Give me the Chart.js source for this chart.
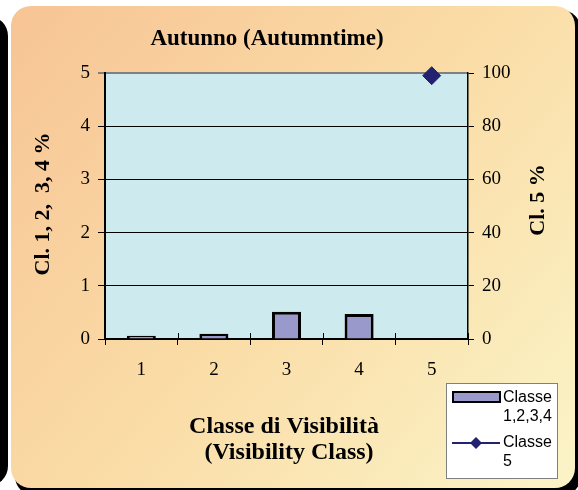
<!DOCTYPE html>
<html>
<head>
<meta charset="utf-8">
<script src="https://cdn.jsdelivr.net/npm/chart.js@4.4.1/dist/chart.umd.min.js"></script>
<style>
  html, body { margin: 0; padding: 0; background: #fff; overflow: hidden; }
  canvas { display: block; }
</style>
</head>
<body>
<canvas id="graficoAutunno" width="578" height="490"></canvas>
<script>
// dati
const categorie = ['1', '2', '3', '4', '5'];
const classi1234 = [0.06, 0.1, 0.51, 0.47, 0];
const classe5 = [null, null, null, null, 99];
const titolo = 'Autunno (Autumntime)';
const titoloX = ['Classe di Visibilità', '(Visibility Class)'];
const titoloY = 'Cl. 1, 2,  3, 4 %';
const titoloY1 = 'Cl. 5 %';
const legenda = [['Classe', '1,2,3,4'], ['Classe', '5']];

const serif = '"Liberation Serif", serif';
const sans = '"Liberation Sans", Arial, sans-serif';

function rr(ctx, x, y, w, h, r) {
    ctx.beginPath();
    ctx.moveTo(x + r, y);
    ctx.arcTo(x + w, y, x + w, y + h, r);
    ctx.arcTo(x + w, y + h, x, y + h, r);
    ctx.arcTo(x, y + h, x, y, r);
    ctx.arcTo(x, y, x + w, y, r);
    ctx.closePath();
}

const sfondo = {
    id: 'sfondo',
    beforeDraw(chart) {
        const ctx = chart.ctx;
        const a = chart.chartArea;
        ctx.save();
        ctx.fillStyle = '#fff';
        ctx.fillRect(0, 0, chart.width, chart.height);
        // ombra del pannello accanto
        ctx.fillStyle = '#000';
        rr(ctx, -60, 16, 68, 470, 20);
        ctx.fill();
        // ombra del pannello
        rr(ctx, 15, 10, 566, 486, 20);
        ctx.fill();
        const g = ctx.createLinearGradient(11, 6, 575, 488);
        g.addColorStop(0, '#f7c495');
        g.addColorStop(0.5, '#fadca6');
        g.addColorStop(1, '#fbf4c8');
        ctx.fillStyle = g;
        rr(ctx, 11, 6, 564, 482, 20);
        ctx.fill();
        // area del grafico
        ctx.fillStyle = '#cdebef';
        ctx.fillRect(a.left, a.top, a.right - a.left, a.bottom - a.top);
        ctx.restore();
    },
    afterDraw(chart) {
        const ctx = chart.ctx;
        const a = chart.chartArea;
        ctx.save();
        // tacche interne asse x
        ctx.strokeStyle = '#000';
        ctx.lineWidth = 1;
        const n = categorie.length;
        for (let i = 0; i <= n; i++) {
            const px = Math.round(a.left + i * (a.right - a.left) / n) + 0.5;
            ctx.beginPath();
            ctx.moveTo(px, a.bottom - 6);
            ctx.lineTo(px, a.bottom);
            ctx.stroke();
        }
        // titoli
        ctx.fillStyle = '#000';
        ctx.textAlign = 'center';
        ctx.textBaseline = 'alphabetic';
        ctx.font = 'bold 23px ' + serif;
        ctx.fillText(titolo, 267, 45);
        ctx.font = 'bold 24px ' + serif;
        ctx.fillText(titoloX[0], 284, 433);
        ctx.fillText(titoloX[1], 289, 459);
        ctx.font = 'bold 22px ' + serif;
        ctx.textBaseline = 'middle';
        ctx.save();
        ctx.translate(43, 204);
        ctx.rotate(-Math.PI / 2);
        ctx.fillText(titoloY, 0, 0);
        ctx.restore();
        ctx.save();
        ctx.translate(538, 200);
        ctx.rotate(-Math.PI / 2);
        ctx.fillText(titoloY1, 0, 0);
        ctx.restore();
        // legenda
        ctx.fillStyle = '#fff';
        ctx.fillRect(446, 383, 112, 96);
        ctx.strokeStyle = '#808080';
        ctx.lineWidth = 1;
        ctx.strokeRect(446.5, 383.5, 111, 95);
        const ds = chart.data.datasets;
        ctx.fillStyle = ds[0].backgroundColor;
        ctx.fillRect(453, 392, 47, 10);
        ctx.strokeStyle = ds[0].borderColor;
        ctx.lineWidth = 2;
        ctx.strokeRect(453, 392, 47, 10);
        ctx.strokeStyle = ds[1].borderColor;
        ctx.lineWidth = 2;
        ctx.beginPath();
        ctx.moveTo(452, 443);
        ctx.lineTo(500, 443);
        ctx.stroke();
        ctx.fillStyle = ds[1].borderColor;
        ctx.beginPath();
        ctx.moveTo(476, 437);
        ctx.lineTo(482, 443);
        ctx.lineTo(476, 449);
        ctx.lineTo(470, 443);
        ctx.closePath();
        ctx.fill();
        ctx.fillStyle = '#000';
        ctx.textAlign = 'left';
        ctx.font = '16px ' + sans;
        ctx.fillText(legenda[0][0], 503, 398);
        ctx.fillText(legenda[0][1], 503, 417);
        ctx.fillText(legenda[1][0], 503, 443);
        ctx.fillText(legenda[1][1], 503, 462);
        ctx.restore();
    }
};

const ctx = document.getElementById('graficoAutunno').getContext('2d');
new Chart(ctx, {
    data: {
        labels: categorie,
        datasets: [{
            type: 'bar',
            label: 'Classe 1,2,3,4',
            data: classi1234,
            yAxisID: 'y',
            backgroundColor: '#9999cc',
            borderColor: '#000',
            borderWidth: 3,
            barPercentage: 0.4,
            categoryPercentage: 1,
            order: 2
        }, {
            type: 'line',
            label: 'Classe 5',
            data: classe5,
            yAxisID: 'y1',
            borderColor: '#222270',
            backgroundColor: '#222270',
            pointStyle: 'rectRot',
            pointRadius: 9,
            pointBorderWidth: 1,
            clip: false,
            order: 1
        }]
    },
    options: {
        responsive: false,
        animation: false,
        layout: { padding: { top: 73, left: 0, right: 0, bottom: 0 } },
        plugins: {
            legend: { display: false },
            title: { display: false },
            tooltip: { enabled: false }
        },
        scales: {
            x: {
                offset: true,
                grid: { offset: true, drawOnChartArea: false, color: '#000', tickLength: 6 },
                border: { color: '#000', width: 1.5 },
                ticks: { color: '#000', padding: 14, font: { family: serif, size: 19 } },
                afterFit: s => { s.height = 151; }
            },
            y: {
                position: 'left',
                min: 0,
                max: 5,
                ticks: { stepSize: 1, color: '#000', padding: 8, font: { family: serif, size: 19 } },
                grid: {
                    color: c => c.tick && c.tick.value === 5 ? '#808080' : '#000',
                    lineWidth: c => c.tick && c.tick.value === 5 ? 2 : 1,
                    tickLength: 7
                },
                border: { color: '#000', width: 2 },
                afterFit: s => { s.width = 105; }
            },
            y1: {
                position: 'right',
                min: 0,
                max: 100,
                ticks: { stepSize: 20, color: '#000', padding: 8, font: { family: serif, size: 19 } },
                grid: { drawOnChartArea: false, color: '#000', tickLength: 6 },
                border: { color: '#000', width: 1.5 },
                afterFit: s => { s.width = 110; }
            }
        }
    },
    plugins: [sfondo]
});
</script>
</body>
</html>
